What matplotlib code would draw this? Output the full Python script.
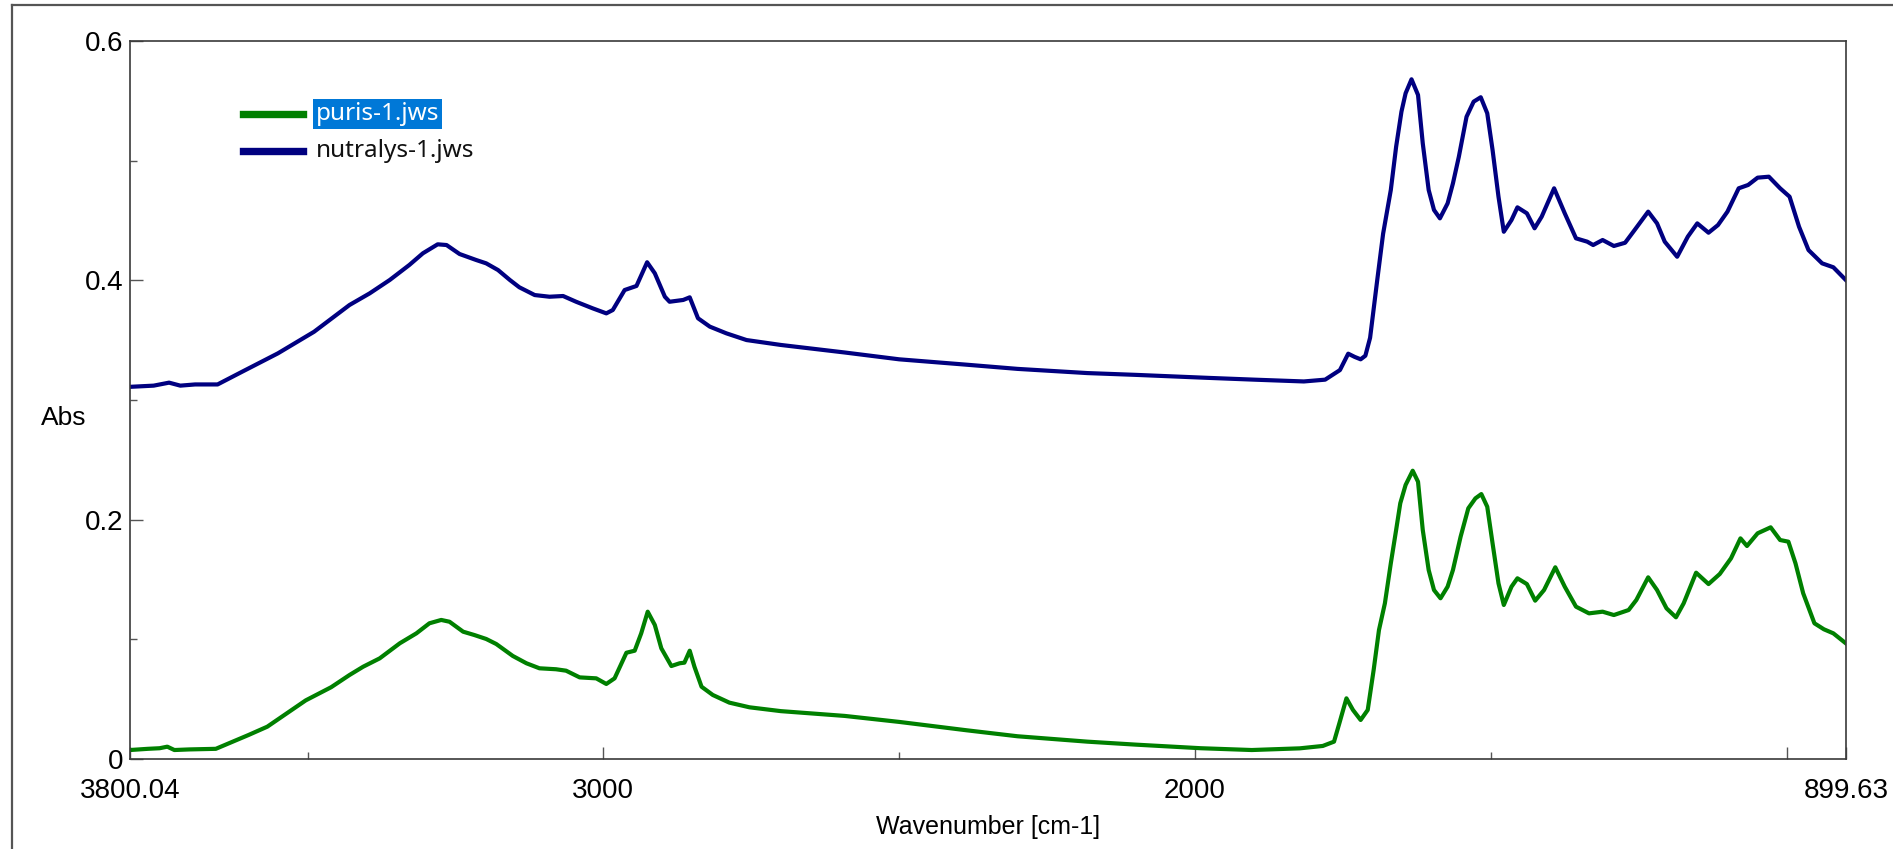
import matplotlib
matplotlib.use("Agg")
import matplotlib.pyplot as plt
from matplotlib.lines import Line2D

# spectra (wavenumber in cm-1, absorbance)
puris_wn = [3800, 3770, 3750, 3737, 3725, 3700, 3655, 3600, 3568, 3503, 3460, 3429, 3406, 3378,
            3344, 3316, 3294, 3274, 3260, 3237, 3218, 3198, 3181, 3153, 3130, 3108, 3080, 3063,
            3040, 3012, 2995, 2981, 2961, 2947, 2936, 2925, 2913, 2902, 2885, 2871, 2863, 2854,
            2846, 2834, 2815, 2787, 2753, 2700, 2592, 2500, 2386, 2300, 2182, 2100, 1990, 1904,
            1823, 1784, 1765, 1756, 1744, 1733, 1720, 1708, 1698, 1689, 1679, 1669, 1660, 1653,
            1644, 1632, 1623, 1615, 1605, 1596, 1585, 1573, 1564, 1551, 1538, 1526, 1516, 1506,
            1497, 1487, 1478, 1465, 1455, 1439, 1425, 1410, 1391, 1375, 1356, 1334, 1311, 1292,
            1267, 1254, 1234, 1219, 1203, 1187, 1174, 1153, 1132, 1113, 1094, 1078, 1067, 1049,
            1027, 1011, 997, 985, 972, 953, 937, 921, 900]
puris_abs = [0.0075, 0.0085, 0.009, 0.0103, 0.0075, 0.008, 0.0085, 0.020, 0.027, 0.049, 0.060,
             0.0702, 0.0771, 0.0841, 0.0967, 0.105, 0.1134, 0.1162, 0.1147, 0.1064, 0.1036,
             0.1003, 0.0961, 0.0861, 0.080, 0.0758, 0.075, 0.0738, 0.0682, 0.0674, 0.0627,
             0.0674, 0.0888, 0.0905, 0.105, 0.1231, 0.112, 0.0925, 0.0777, 0.080, 0.0805,
             0.0905, 0.0771, 0.0604, 0.0535, 0.0471, 0.0432, 0.040, 0.036, 0.031, 0.024, 0.019,
             0.0145, 0.012, 0.009, 0.0075, 0.0089, 0.0109, 0.0145, 0.0298, 0.0507, 0.041,
             0.0326, 0.041, 0.0744, 0.1078, 0.1301, 0.1635, 0.1914, 0.2137, 0.229, 0.2409,
             0.2317, 0.1914, 0.1579, 0.1412, 0.1343, 0.144, 0.1579, 0.1858, 0.2095, 0.2178,
             0.2214, 0.2108, 0.1802, 0.1468, 0.1287, 0.144, 0.151, 0.1462, 0.1323, 0.1412,
             0.1602, 0.144, 0.1273, 0.1217, 0.1231, 0.1203, 0.1245, 0.1329, 0.1518, 0.1412,
             0.1259, 0.1184, 0.1301, 0.1557, 0.1462, 0.1546, 0.1677, 0.1844, 0.178, 0.1886,
             0.1936, 0.183, 0.1816, 0.1635, 0.1385, 0.1134, 0.1084, 0.105, 0.0967]

nutralys_wn = [3800, 3760, 3734, 3715, 3690, 3652, 3611, 3550, 3489, 3429, 3395, 3361, 3328,
               3305, 3280, 3265, 3243, 3215, 3198, 3178, 3158, 3142, 3116, 3091, 3068, 3046,
               3018, 2995, 2984, 2964, 2944, 2926, 2913, 2896, 2888, 2865, 2854, 2840, 2820,
               2792, 2758, 2700, 2592, 2500, 2386, 2300, 2182, 2100, 1978, 1900, 1816, 1780,
               1755, 1741, 1730, 1720, 1712, 1704, 1692, 1682, 1669, 1660, 1651, 1644, 1634,
               1623, 1615, 1605, 1596, 1586, 1573, 1564, 1554, 1541, 1529, 1517, 1506, 1497,
               1487, 1478, 1465, 1455, 1439, 1426, 1414, 1393, 1375, 1356, 1337, 1327, 1311,
               1292, 1273, 1257, 1234, 1219, 1206, 1185, 1167, 1151, 1132, 1116, 1100, 1081,
               1065, 1049, 1030, 1011, 995, 979, 963, 940, 921, 900]
nutralys_abs = [0.311, 0.312, 0.3145, 0.312, 0.313, 0.313, 0.3235, 0.339, 0.357, 0.3794,
                0.3891, 0.4003, 0.4128, 0.4226, 0.4301, 0.4295, 0.422, 0.417, 0.4142, 0.4086,
                0.4003, 0.3942, 0.3877, 0.3863, 0.3869, 0.3821, 0.3766, 0.3724, 0.3752,
                0.3919, 0.3953, 0.4151, 0.4059, 0.3863, 0.3821, 0.3836, 0.3858, 0.3683,
                0.3613, 0.3557, 0.3501, 0.346, 0.3397, 0.334, 0.3295, 0.326, 0.3225, 0.321,
                0.3185, 0.317, 0.3155, 0.317, 0.325, 0.3387, 0.336, 0.334, 0.337, 0.352,
                0.400, 0.439, 0.4755, 0.5117, 0.541, 0.5563, 0.568, 0.5549, 0.5145, 0.4755,
                0.4588, 0.4518, 0.4643, 0.481, 0.5033, 0.5367, 0.5493, 0.553, 0.5396, 0.5089,
                0.4699, 0.4406, 0.4504, 0.461, 0.456, 0.4435, 0.4532, 0.4769, 0.456, 0.4351,
                0.4323, 0.4295, 0.4337, 0.4287, 0.4314, 0.442, 0.4574, 0.4476, 0.4323, 0.4197,
                0.4365, 0.4476, 0.4398, 0.4462, 0.4574, 0.4769, 0.4797, 0.4858, 0.4866,
                0.4769, 0.4699, 0.4448, 0.4253, 0.4142, 0.4109, 0.4003]

series_names = ['puris-1.jws', 'nutralys-1.jws']
series_colors = ['#008000', '#000080']

x_ticks = [3800.04, 3000, 2000, 1000, 899.63]
x_ticklabels = ['3800.04', '3000', '2000', '', '899.63']
x_minor = [3500, 2500, 1500]
y_ticks = [0, 0.2, 0.4, 0.6]
y_ticklabels = ['0', '0.2', '0.4', '0.6']
y_minor = [0.1, 0.3, 0.5]

W, H = 1893, 849
fig = plt.figure(figsize=(W / 100, H / 100), dpi=100)
ax = fig.add_axes([130 / W, 1 - 759 / H, 1716 / W, 718 / H])

ax.plot(puris_wn, puris_abs, color=series_colors[0], lw=3.0, solid_joinstyle='round')
ax.plot(nutralys_wn, nutralys_abs, color=series_colors[1], lw=3.0, solid_joinstyle='round')

ax.set_xlim(3800.04, 899.63)
ax.set_ylim(0, 0.6)

narrow = ['Liberation Sans Narrow', 'Liberation Sans', 'DejaVu Sans']
ax.set_xticks(x_ticks)
ax.set_xticklabels(x_ticklabels, family=narrow, fontsize=20)
ax.set_xticks(x_minor, minor=True)
ax.set_yticks(y_ticks)
ax.set_yticklabels(y_ticklabels, family=narrow, fontsize=20)
ax.set_yticks(y_minor, minor=True)
ax.tick_params(which='both', direction='in', color='#555555', width=1)
ax.tick_params(which='major', length=9)
ax.tick_params(which='minor', length=5)
ax.tick_params(axis='x', pad=14)
ax.tick_params(axis='y', pad=5)

for s in ax.spines.values():
    s.set_color('#3a3a3a')
    s.set_linewidth(1.2)

ax.set_xlabel('Wavenumber [cm-1]', family=['Liberation Sans', 'DejaVu Sans'], fontsize=18)
ax.xaxis.set_label_coords(0.5, (759 - 827) / 718)
ax.xaxis.label.set_va('center')
ax.set_ylabel('Abs', family=['Liberation Sans', 'DejaVu Sans'], fontsize=19, rotation=0)
ax.yaxis.set_label_coords((64 - 130) / 1716, (759 - 418) / 718)
ax.yaxis.label.set_va('center')
ax.yaxis.label.set_ha('center')

# legend drawn by hand (first entry shown selected)
leg_font = ['Noto Sans', 'DejaVu Sans']
for i, (name, col) in enumerate(zip(series_names, series_colors)):
    yy = 1 - (114 + 37 * i) / H
    fig.add_artist(Line2D([243 / W, 303 / W], [yy, yy], color=col, lw=5.3,
                          transform=fig.transFigure))
    if i == 0:
        fig.text(316 / W, yy, name, family=leg_font, fontsize=17.5, color='white',
                 va='center', ha='left',
                 bbox=dict(boxstyle='square,pad=0.12', fc='#0078D7', ec='none'))
    else:
        fig.text(316 / W, yy, name, family=leg_font, fontsize=17.5, color='#111111',
                 va='center', ha='left')

# outer panel border
fig.add_artist(Line2D([12 / W, 12 / W], [0, 1 - 5 / H], color='#555555', lw=1.6,
                      transform=fig.transFigure))
fig.add_artist(Line2D([12 / W, 1], [1 - 5 / H, 1 - 5 / H], color='#555555', lw=1.6,
                      transform=fig.transFigure))

fig.savefig('out.png', dpi=100)
